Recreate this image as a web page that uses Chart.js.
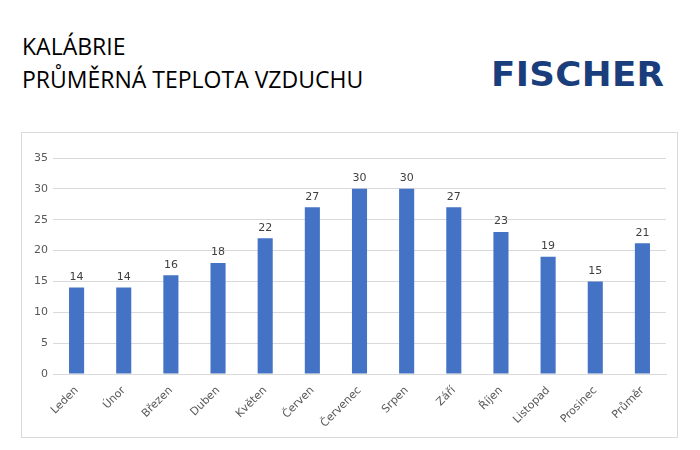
<!DOCTYPE html>
<html>
<head>
<meta charset="utf-8">
<script src="https://cdn.jsdelivr.net/npm/chart.js@4"></script>
<style>
  body { margin: 0; width: 700px; height: 450px; background: #fff; position: relative; overflow: hidden; }
  #title { position: absolute; left: 22px; top: 30px; font-family: "Open Sans", sans-serif; font-size: 23px; line-height: 33px; color: #000; }
  #logo { position: absolute; left: 491px; top: 55px; font-family: "DejaVu Sans", sans-serif; font-weight: bold; font-size: 33px; color: #1a3d7c; letter-spacing: 0.3px; transform: scaleX(1.08); transform-origin: left top; }
  #box { position: absolute; left: 21px; top: 132px; width: 655px; height: 304px; border: 1px solid #d9d9d9; }
  #box canvas { position: absolute; left: 0; top: 0; }
</style>
</head>
<body>
<div id="title">KALÁBRIE<br>PRŮMĚRNÁ TEPLOTA VZDUCHU</div>
<div id="logo">FISCHER</div>
<div id="box"><canvas id="chart" width="655" height="304"></canvas></div>
<script>
const months = ['Leden', 'Únor', 'Březen', 'Duben', 'Květen', 'Červen', 'Červenec', 'Srpen', 'Září', 'Říjen', 'Listopad', 'Prosinec', 'Průměr'];
const temps = [14, 14, 16, 18, 22, 27, 30, 30, 27, 23, 19, 15, 21.2];

const barLabels = {
    id: 'barLabels',
    afterDatasetsDraw(chart) {
        const ctx = chart.ctx;
        const meta = chart.getDatasetMeta(0);
        ctx.save();
        ctx.font = '11px "DejaVu Sans", sans-serif';
        ctx.fillStyle = '#404040';
        ctx.textAlign = 'center';
        ctx.textBaseline = 'bottom';
        meta.data.forEach((bar, i) => {
            ctx.fillText(Math.round(temps[i]), bar.x, bar.y - 5);
        });
        ctx.restore();
    }
};

new Chart(document.getElementById('chart'), {
    type: 'bar',
    data: {
        labels: months,
        datasets: [{
            data: temps,
            backgroundColor: '#4472c4',
            barPercentage: 0.32,
            categoryPercentage: 1
        }]
    },
    options: {
        responsive: false,
        animation: false,
        layout: { padding: { left: 0, right: 11, top: 25, bottom: 0 } },
        plugins: { legend: { display: false }, tooltip: { enabled: false } },
        scales: {
            x: {
                grid: { display: false },
                border: { color: '#d9d9d9' },
                afterFit: scale => { scale.height = 63; },
                ticks: {
                    color: '#595959',
                    font: { family: '"DejaVu Sans", sans-serif', size: 11 },
                    minRotation: 45,
                    maxRotation: 45,
                    padding: 2
                }
            },
            y: {
                min: 0,
                max: 35,
                afterFit: scale => { scale.width = 31; },
                ticks: {
                    stepSize: 5,
                    color: '#595959',
                    font: { family: '"DejaVu Sans", sans-serif', size: 11 },
                    padding: 5
                },
                grid: { color: '#d9d9d9', drawTicks: false },
                border: { display: false }
            }
        }
    },
    plugins: [barLabels]
});
</script>
</body>
</html>
